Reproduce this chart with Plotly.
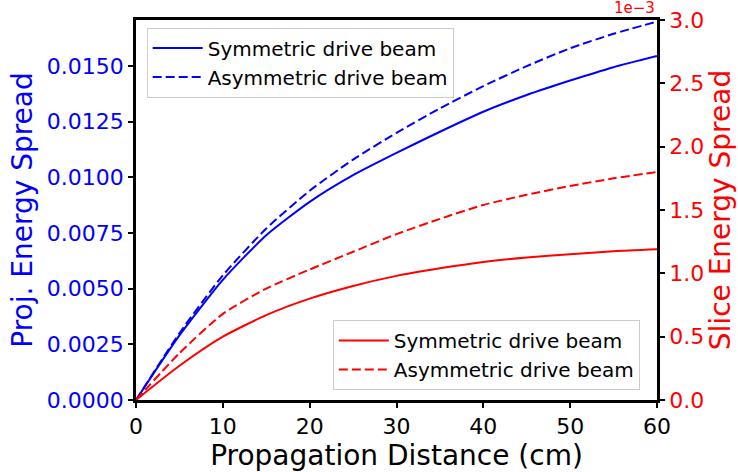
import plotly.graph_objects as go

# Propagation distance (cm)
distance = [0, 5, 10, 15, 20, 25, 30, 35, 40, 45, 50, 55, 60]

# Projected energy spread (left axis)
proj_sym = [0.0, 0.0029, 0.0054, 0.0074, 0.0089, 0.01010, 0.0111, 0.01205, 0.01295, 0.0137, 0.01435, 0.01495, 0.01545]
proj_asym = [0.0, 0.0030, 0.0056, 0.0077, 0.0094, 0.0108, 0.0120, 0.0131, 0.0141, 0.0150, 0.0158, 0.01645, 0.0170]

# Slice energy spread (right axis, units of 1e-3)
slice_sym_e3 = [0.0, 0.27, 0.50, 0.67, 0.80, 0.90, 0.98, 1.04, 1.09, 1.125, 1.15, 1.175, 1.19]
slice_asym_e3 = [0.0, 0.37, 0.68, 0.88, 1.03, 1.17, 1.31, 1.43, 1.54, 1.62, 1.69, 1.75, 1.80]

left_ticks = [0.0, 0.0025, 0.005, 0.0075, 0.01, 0.0125, 0.015]
right_ticks = [0.0, 0.5, 1.0, 1.5, 2.0, 2.5, 3.0]
x_ticks = [0, 10, 20, 30, 40, 50, 60]

FONT = "DejaVu Sans"
BLUE = "#0000ff"
RED = "#ff0000"
SMOOTH = 0.6

fig = go.Figure()
fig.add_trace(go.Scatter(x=distance, y=proj_sym, mode="lines", name="Symmetric drive beam",
                         line=dict(color=BLUE, width=2, shape="spline", smoothing=SMOOTH),
                         legend="legend"))
fig.add_trace(go.Scatter(x=distance, y=proj_asym, mode="lines", name="Asymmetric drive beam",
                         line=dict(color=BLUE, width=2, dash="9px,4px", shape="spline", smoothing=SMOOTH),
                         legend="legend"))
fig.add_trace(go.Scatter(x=distance, y=slice_sym_e3, mode="lines", name="Symmetric drive beam",
                         line=dict(color=RED, width=2, shape="spline", smoothing=SMOOTH),
                         yaxis="y2", legend="legend2"))
fig.add_trace(go.Scatter(x=distance, y=slice_asym_e3, mode="lines", name="Asymmetric drive beam",
                         line=dict(color=RED, width=2, dash="9px,4px", shape="spline", smoothing=SMOOTH),
                         yaxis="y2", legend="legend2"))

legend_common = dict(bgcolor="rgba(255,255,255,0.8)", bordercolor="#cccccc", borderwidth=1,
                     itemwidth=50,
                     font=dict(family=FONT, size=20, color="black"))

fig.update_layout(
    width=738, height=472,
    margin=dict(l=136, r=81, t=20, b=72, autoexpand=False),
    paper_bgcolor="white", plot_bgcolor="white",
    font=dict(family=FONT),
    xaxis=dict(range=[0, 60], tickvals=x_ticks, ticks="outside", ticklen=5, tickwidth=1.5,
               tickcolor="black", showline=True, linewidth=2.5, linecolor="black", mirror=True,
               showgrid=False, zeroline=False, automargin=False,
               tickfont=dict(family=FONT, size=22, color="black"),
               title=dict(text="Propagation Distance (cm)", font=dict(family=FONT, size=28, color="black"),
                          standoff=6)),
    yaxis=dict(range=[0, 0.01707], tickvals=left_ticks, tickformat=".4f", ticks="outside", ticklen=5,
               tickwidth=1.5, tickcolor="black", showline=True, linewidth=2.5, linecolor="black",
               showgrid=False, zeroline=False, automargin=False,
               tickfont=dict(family=FONT, size=22, color=BLUE),
               title=dict(text="Proj. Energy Spread", font=dict(family=FONT, size=28, color=BLUE),
                          standoff=7)),
    yaxis2=dict(range=[0, 3.0], tickvals=right_ticks, tickformat=".1f", overlaying="y", side="right",
                ticks="outside", ticklen=5, tickwidth=1.5, tickcolor="black", showline=True,
                linewidth=2.5, linecolor="black", showgrid=False, zeroline=False, automargin=False,
                tickfont=dict(family=FONT, size=22, color=RED),
                title=dict(text="Slice Energy Spread", font=dict(family=FONT, size=28, color=RED),
                           standoff=8)),
    legend=dict(x=0.0205, y=0.98, xanchor="left", yanchor="top", **legend_common),
    legend2=dict(x=0.967, y=0.026, xanchor="right", yanchor="bottom", **legend_common),
    showlegend=True,
)

fig.add_annotation(text="1e\u22123", x=1, y=1, xref="paper", yref="paper", xanchor="right",
                   yanchor="bottom", showarrow=False, yshift=1,
                   font=dict(family=FONT, size=15, color=RED))

fig.write_html("out.html")
